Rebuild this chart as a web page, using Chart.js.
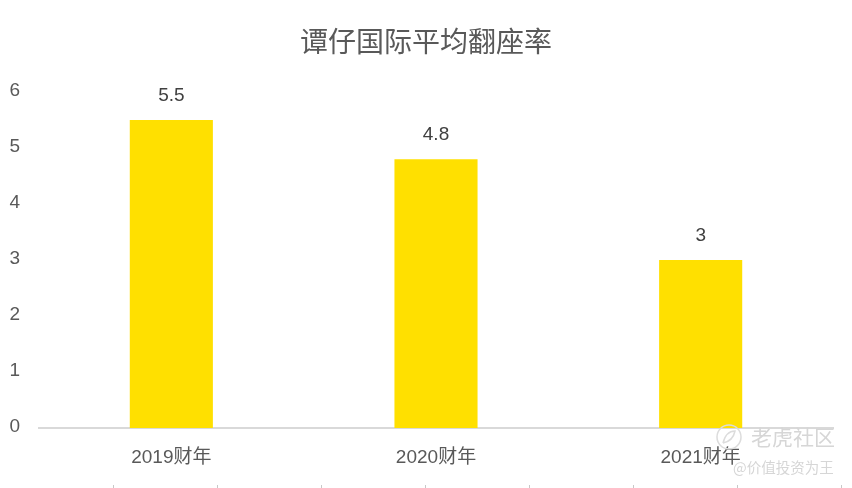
<!DOCTYPE html>
<html>
<head>
<meta charset="utf-8">
<style>
  html, body { margin: 0; padding: 0; background: #fff; }
  canvas { display: block; }
</style>
<script src="https://cdn.jsdelivr.net/npm/chart.js@4/dist/chart.umd.min.js"></script>
</head>
<body>
<canvas id="myChart" width="852" height="488"></canvas>
<script>
// Chart data
const chartTitle = "谭仔国际平均翻座率";
const categories = ["2019财年", "2020财年", "2021财年"];
const turnoverRate = [5.5, 4.8, 3];
const yTicks = [0, 1, 2, 3, 4, 5, 6];

const fontFamily = '"Liberation Sans", "Noto Sans CJK SC", sans-serif';

// Value labels above the bars, title centred on the whole canvas
const barLabels = {
    id: "barLabels",
    afterDatasetsDraw(chart) {
        const ctx = chart.ctx;
        ctx.save();
        ctx.textAlign = "center";
        ctx.textBaseline = "middle";
        ctx.font = '28px "Noto Sans CJK SC", sans-serif';
        ctx.fillStyle = "#595959";
        ctx.fillText(chartTitle, chart.width / 2, 41);

        ctx.font = "19px " + fontFamily;
        ctx.fillStyle = "#404040";
        chart.getDatasetMeta(0).data.forEach((bar, i) => {
            ctx.fillText(turnoverRate[i], bar.x, bar.y - 24);
        });
        ctx.restore();
    }
};

// Watermark and the small marks at the bottom edge of the screenshot
const watermark = {
    id: "watermark",
    afterDraw(chart) {
        const ctx = chart.ctx;
        ctx.save();
        ctx.fillStyle = "#d6d6d6";
        ctx.strokeStyle = "#dcdcdc";
        ctx.lineWidth = 1.5;
        ctx.beginPath();
        ctx.arc(729, 437, 12, 0, Math.PI * 2);
        ctx.stroke();
        // squiggle inside the logo circle
        ctx.beginPath();
        ctx.moveTo(723, 443);
        ctx.quadraticCurveTo(726, 431, 735, 431);
        ctx.quadraticCurveTo(733, 441, 723, 443);
        ctx.stroke();
        ctx.textBaseline = "middle";
        ctx.font = '21px "Noto Sans CJK SC"';
        ctx.fillText("老虎社区", 751, 437);
        ctx.font = '14.5px "Noto Sans CJK SC"';
        ctx.fillText("@价值投资为王", 733, 467);

        ctx.strokeStyle = "#c8c8c8";
        ctx.lineWidth = 1;
        for (let x = 113; x < 852; x += 104) {
            ctx.beginPath();
            ctx.moveTo(x + 0.5, 485);
            ctx.lineTo(x + 0.5, 488);
            ctx.stroke();
        }
        ctx.restore();
    }
};

const ctx = document.getElementById("myChart").getContext("2d");
new Chart(ctx, {
    type: "bar",
    data: {
        labels: categories,
        datasets: [{
            data: turnoverRate,
            backgroundColor: "#ffe000",
            categoryPercentage: 1,
            barPercentage: 0.314
        }]
    },
    options: {
        responsive: false,
        animation: false,
        layout: { padding: { top: 92, right: 19, left: 0, bottom: 0 } },
        plugins: {
            legend: { display: false },
            tooltip: { enabled: false }
        },
        scales: {
            x: {
                grid: { display: false },
                border: { color: "#d9d9d9", width: 2 },
                ticks: { color: "#595959", font: { family: fontFamily, size: 19 }, padding: 10, maxRotation: 0 },
                afterFit(scale) { scale.height = 60; }
            },
            y: {
                min: 0,
                max: 6,
                grid: { display: false },
                border: { display: false },
                ticks: {
                    color: "#595959",
                    font: { family: fontFamily, size: 19 },
                    padding: 11,
                    labelOffset: -1,
                    stepSize: 1,
                    callback: (value) => (yTicks.includes(value) ? value : "")
                },
                afterFit(scale) { scale.width = 39; }
            }
        }
    },
    plugins: [barLabels, watermark]
});
</script>
</body>
</html>
